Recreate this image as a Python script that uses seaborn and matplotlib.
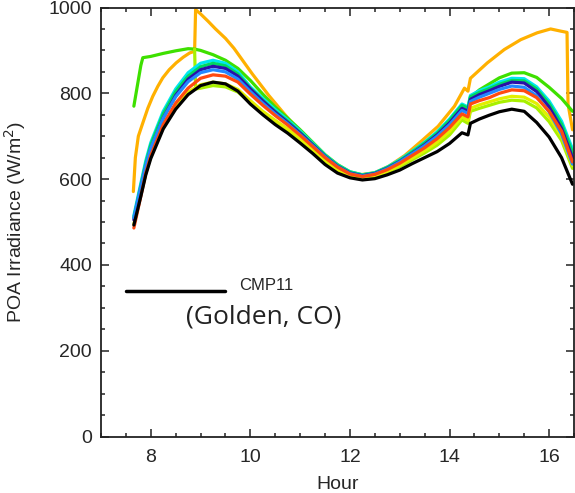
import matplotlib
matplotlib.use('Agg')
import matplotlib.pyplot as plt
from matplotlib.ticker import MultipleLocator
import seaborn as sns

# hours shared by most of the series
hours = [7.66, 7.8, 7.9, 8.0, 8.25, 8.5, 8.75, 9.0, 9.25, 9.5, 9.75, 10.0, 10.25, 10.5, 10.75,
         11.0, 11.25, 11.5, 11.75, 12.0, 12.25, 12.5, 12.75, 13.0, 13.25, 13.5, 13.75, 14.0,
         14.25, 14.37, 14.42, 14.6, 14.8, 15.0, 15.25, 15.5, 15.75, 16.0, 16.25, 16.47]

cmp11 = [493, 560, 610, 648, 717, 763, 797, 818, 826, 822, 805, 775, 750, 727, 707,
         684, 660, 634, 614, 603, 598, 601, 610, 621, 636, 650, 664, 683,
         708, 703, 730, 740, 749, 757, 763, 758, 732, 698, 650, 588]
red = [486, 560, 614, 655, 727, 777, 812, 835, 843, 840, 826, 798, 772, 748, 726,
       702, 676, 650, 628, 612, 606, 611, 622, 637, 655, 673, 694, 720,
       752, 745, 775, 783, 790, 800, 808, 806, 790, 758, 712, 640]
blue = [510, 582, 632, 672, 742, 792, 827, 848, 855, 850, 833, 804, 777, 752, 729,
        704, 678, 652, 629, 613, 607, 612, 624, 640, 659, 678, 700, 727,
        760, 753, 781, 791, 800, 809, 817, 814, 794, 757, 705, 635]
navy = [505, 578, 628, 670, 742, 795, 833, 855, 863, 858, 840, 810, 782, 756, 732,
        707, 680, 653, 630, 614, 608, 613, 625, 641, 660, 680, 703, 731,
        765, 758, 786, 797, 806, 816, 826, 824, 804, 768, 718, 650]
cyan = [515, 590, 643, 685, 758, 810, 848, 870, 877, 870, 850, 815, 788, 762, 738,
        712, 684, 656, 633, 617, 610, 615, 628, 645, 665, 686, 710, 740,
        775, 768, 795, 806, 815, 826, 835, 834, 815, 782, 735, 670]
spring = [510, 585, 637, 680, 752, 804, 840, 862, 870, 864, 845, 812, 784, 758, 735,
          709, 682, 655, 632, 616, 609, 614, 627, 643, 663, 684, 707, 737,
          772, 765, 792, 802, 811, 821, 830, 829, 810, 776, 728, 662]
yellow = [495, 565, 614, 652, 722, 770, 803, 820, 826, 822, 809, 783, 758, 737, 717,
          694, 669, 644, 622, 608, 603, 607, 618, 632, 649, 666, 686, 711,
          745, 737, 765, 773, 780, 787, 793, 791, 776, 745, 700, 632]

green_hours = [7.66, 7.8, 7.84, 8.0, 8.25, 8.5, 8.75, 8.88, 9.0, 9.25, 9.5, 9.75, 10.0,
               10.25, 10.5, 10.75, 11.0, 11.25, 11.5, 11.75, 12.0, 12.25, 12.5, 12.75,
               13.0, 13.25, 13.5, 13.75, 14.0, 14.25, 14.37, 14.42, 14.6, 14.8, 15.0,
               15.25, 15.5, 15.75, 16.0, 16.25, 16.47]
green = [770, 865, 883, 886, 893, 899, 904, 903, 900, 890, 877, 858, 830,
         798, 768, 742, 715, 686, 657, 634, 617, 610, 614, 626,
         642, 661, 681, 704, 733, 768, 762, 790, 808, 822, 836,
         847, 848, 837, 814, 788, 758]

lime_hours = [8.88, 8.9, 9.0, 9.25, 9.5, 9.75, 10.0, 10.25, 10.5, 10.75, 11.0, 11.25,
              11.5, 11.75, 12.0, 12.25, 12.5, 12.75, 13.0, 13.25, 13.5, 13.75, 14.0,
              14.25, 14.37, 14.42, 14.6, 14.8, 15.0, 15.25, 15.5, 15.75, 16.0, 16.25, 16.47]
lime = [903, 810, 812, 818, 815, 803, 778, 754, 733, 713, 690, 666,
        641, 620, 607, 602, 606, 616, 629, 645, 661, 679, 703,
        738, 730, 758, 765, 772, 779, 784, 782, 766, 734, 690, 625]

gold_hours = [7.65, 7.69, 7.75, 7.84, 7.94, 8.04, 8.14, 8.24, 8.37, 8.51, 8.65, 8.78, 8.88,
              8.9, 9.0, 9.15, 9.3, 9.5, 9.67, 10.04,
              10.37, 10.71, 11.04, 11.37, 11.7, 12.0, 12.2, 12.5, 12.78, 13.1, 13.43,
              13.77, 14.1, 14.3, 14.37, 14.42, 14.76, 15.1, 15.43, 15.76, 16.03, 16.23,
              16.36, 16.38, 16.47]
gold = [571, 650, 700, 731, 765, 793, 816, 836, 855, 871, 884, 894, 898,
        995, 985, 968, 950, 928, 905, 845,
        795, 748, 704, 662, 632, 614, 610, 615, 630, 655, 688,
        723, 770, 812, 805, 835, 871, 902, 925, 941, 950, 945,
        942, 775, 715]

legend_x = [7.5, 9.5]
legend_y = [340, 340]

sns.set_style("ticks")
plt.rcParams['font.family'] = ['Liberation Sans', 'DejaVu Sans']

fig = plt.figure(figsize=(5.75, 4.93), dpi=100)
ax = fig.add_axes([101/575, 56.5/493, 473/575, 429/493])

series = [
    (gold_hours, gold, '#ffb000'),
    (green_hours, green, '#3ee000'),
    (lime_hours, lime, '#a8f000'),
    (hours, yellow, '#e2ef00'),
    (hours, cyan, '#00e6f0'),
    (hours, spring, '#00d860'),
    (hours, navy, '#2a10a8'),
    (hours, blue, '#2288ff'),
    (hours, red, '#ff4a10'),
    (hours, cmp11, 'black'),
]
for xs, ys, c in series:
    sns.lineplot(x=xs, y=ys, color=c, lw=2.3, sort=False, estimator=None, ax=ax)

# legend line for the reference sensor
sns.lineplot(x=legend_x, y=legend_y, color='black', lw=2.5, sort=False, estimator=None, ax=ax)
ax.text(9.77, 351, 'CMP11', fontsize=12, va='center', ha='left')
ax.text(8.71, 279, '(Golden, CO)', fontsize=19, va='center', ha='left',
        family=['Open Sans', 'DejaVu Sans'], color='#222222')

ax.set_xlim(7, 16.5)
ax.set_ylim(0, 1000)
ax.xaxis.set_major_locator(MultipleLocator(2))
ax.xaxis.set_minor_locator(MultipleLocator(0.5))
ax.yaxis.set_major_locator(MultipleLocator(200))
ax.yaxis.set_minor_locator(MultipleLocator(50))
ax.tick_params(which='both', direction='in', top=True, right=True, width=1.1, color='#222222')
ax.tick_params(which='major', length=5.5, labelsize=14, pad=6.5)
ax.tick_params(which='minor', length=3)
ax.tick_params(axis='x', which='major', pad=9)
for s in ax.spines.values():
    s.set_linewidth(1.3)
    s.set_color('#222222')

ax.set_xlabel('Hour', fontsize=14, labelpad=7)
ax.set_ylabel('POA Irradiance (W/m$^2$)', fontsize=14)
ax.yaxis.set_label_coords(-0.155, 0.5)

plt.savefig('out.png', dpi=100)
